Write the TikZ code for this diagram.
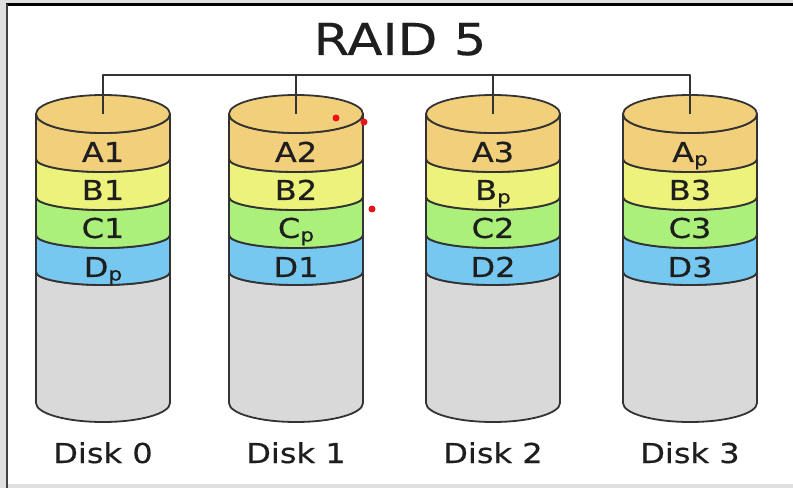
\documentclass[tikz,border=0pt]{standalone}
\usepackage{fontspec}
\setmainfont{DejaVu Sans}[FakeBold=0.4]
\definecolor{cA}{HTML}{F2CF7A}
\definecolor{cB}{HTML}{EDF27B}
\definecolor{cC}{HTML}{AAF07A}
\definecolor{cD}{HTML}{76C8F0}
\definecolor{cE}{HTML}{D9D9D9}
\definecolor{edge}{HTML}{333333}
\definecolor{txt}{HTML}{1E1E1E}
\definecolor{dot}{HTML}{E8141A}
\newcommand\parsub{\raisebox{-3.5pt}{\fontsize{18.5}{18}\selectfont p}}
\newcommand\wide[1]{\scalebox{1.17}[1]{#1}}
\begin{document}
\begin{tikzpicture}[x=1pt,y=1pt,line join=round,
  band/.style={fill=#1,draw=edge,line width=1.8pt},
  lbl/.style={font=\fontsize{27.4}{30}\selectfont,text=txt,anchor=base,inner sep=0pt},
  ttl/.style={font=\fontsize{44}{48}\selectfont,text=txt,anchor=base,inner sep=0pt},
  wire/.style={draw=edge,line width=1.6pt},
  reddot/.style={fill=dot}]
\useasboundingbox (0,0) rectangle (793,488);
\fill[black!12] (0,0) rectangle (793,488);
\fill[white] (8,4) rectangle (793,482);
\draw[line width=3pt,black] (6,483.5) -- (793,483.5);
\draw[line width=2pt,black!75] (7,0) -- (7,484);
\node[ttl] (title) at (400,433) {\wide{RAID 5}};
\foreach \i/\cx/\la/\lb/\lc/\ld in {0/103/A1/B1/C1/D\parsub,1/296/A2/B2/C\parsub/D1,2/493/A3/B\parsub/C2/D2,3/690/A\parsub/B3/C3/D3}{
  \path[band=cE] (\cx-67,216) -- (\cx-67,85) arc[start angle=180,end angle=360,x radius=67,y radius=19]
     -- (\cx+67,216) arc[start angle=0,end angle=-180,x radius=67,y radius=13] -- cycle;
  \path[band=cD] (\cx-67,253) -- (\cx-67,216) arc[start angle=180,end angle=360,x radius=67,y radius=13]
     -- (\cx+67,253) arc[start angle=0,end angle=-180,x radius=67,y radius=13] -- cycle;
  \path[band=cC] (\cx-67,291) -- (\cx-67,253) arc[start angle=180,end angle=360,x radius=67,y radius=13]
     -- (\cx+67,291) arc[start angle=0,end angle=-180,x radius=67,y radius=13] -- cycle;
  \path[band=cB] (\cx-67,329) -- (\cx-67,291) arc[start angle=180,end angle=360,x radius=67,y radius=13]
     -- (\cx+67,329) arc[start angle=0,end angle=-180,x radius=67,y radius=13] -- cycle;
  \path[band=cA] (\cx-67,374) -- (\cx-67,329) arc[start angle=180,end angle=360,x radius=67,y radius=13]
     -- (\cx+67,374) arc[start angle=0,end angle=-180,x radius=67,y radius=19] -- cycle;
  \path[band=cA] (\cx,374) ellipse[x radius=67,y radius=19];
  \coordinate (top\i) at (\cx,374);
  \node[lbl] (a\i) at (\cx,326) {\wide{\la}};
  \node[lbl] (b\i) at (\cx,288) {\wide{\lb}};
  \node[lbl] (c\i) at (\cx,250) {\wide{\lc}};
  \node[lbl] (d\i) at (\cx,211) {\wide{\ld}};
  \node[lbl] (disk\i) at (\cx,25) {\wide{Disk \i}};
}
\coordinate (bus) at (0,413);
\draw[wire] (top0) -- (top0 |- bus) -- (top3 |- bus) -- (top3);
\draw[wire] (top1) -- (top1 |- bus);
\draw[wire] (top2) -- (top2 |- bus);
\fill[reddot] (336,370) circle (3.5);
\fill[reddot] (364,366) circle (3.5);
\fill[reddot] (372,279) circle (3.5);
\end{tikzpicture}
\end{document}
